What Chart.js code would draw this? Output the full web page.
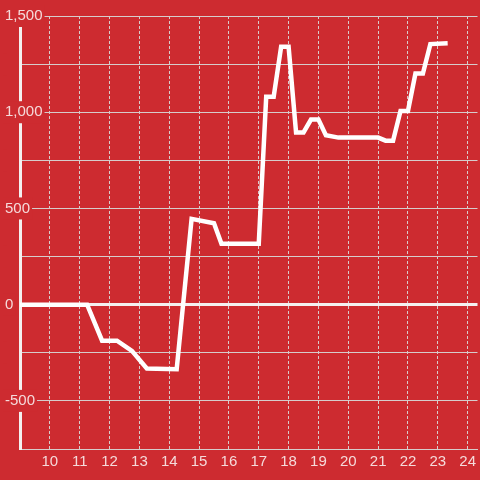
<!DOCTYPE html>
<html>
<head>
<meta charset="utf-8">
<script src="https://cdn.jsdelivr.net/npm/chart.js@4/dist/chart.umd.min.js"></script>
<style>
  html, body { margin: 0; padding: 0; background: #cd2b30; }
  #wrap { width: 480px; height: 480px; }
</style>
</head>
<body>
<div id="wrap"><canvas id="chart_main"></canvas></div>
<script>
// hours of the day (x) and running value (y)
const hours = [9, 11.25, 11.75, 12.25, 12.75, 13.25, 14.25, 14.75, 15.5, 15.75, 17, 17.25, 17.5, 17.75, 18, 18.25, 18.5, 18.75, 19, 19.25, 19.67, 21, 21.25, 21.5, 21.75, 22, 22.25, 22.5, 22.75, 23.33];
const values = [0, 0, -187, -187, -240, -332, -335, 446, 423, 316, 316, 1080, 1080, 1340, 1340, 895, 895, 962, 962, 880, 868, 868, 852, 852, 1007, 1007, 1201, 1201, 1354, 1358];

const x_ticks = [10, 11, 12, 13, 14, 15, 16, 17, 18, 19, 20, 21, 22, 23, 24];
const y_ticks = [-750, -500, -250, 0, 250, 500, 750, 1000, 1250, 1500];
const y_labelled = [-500, 0, 500, 1000, 1500];

const bg_color = "#cd2b30";
const text_color = "#f5dada";
const grid_color = "#d6cccc";

Chart.defaults.font.family = "'Liberation Sans', Arial, sans-serif";
Chart.defaults.font.size = 15;
Chart.defaults.color = text_color;

const points = hours.map(function (h, i) {
  return { x: h, y: values[i] };
});

let this_canvas = document.getElementById("chart_main").getContext("2d");
new Chart(this_canvas, {
  type: "line",
  data: {
    datasets: [
      {
        label: "Value",
        data: points,
        borderColor: "#ffffff",
        borderWidth: 4.5,
        pointRadius: 0,
        tension: 0,
      },
    ],
  },
  options: {
    responsive: true,
    maintainAspectRatio: false,
    animation: false,
    layout: {
      padding: { left: 20, right: 0, top: 16, bottom: 5 },
    },
    plugins: {
      legend: { display: false },
      tooltip: { enabled: false },
    },
    scales: {
      x: {
        type: "linear",
        min: 9,
        max: 24.33,
        afterBuildTicks: function (scale) {
          scale.ticks = x_ticks.map((v) => ({ value: v }));
        },
        grid: {
          color: grid_color,
          lineWidth: 1,
          drawTicks: false,
        },
        border: {
          display: true,
          color: grid_color,
          width: 1,
          dash: [3, 2],
        },
        ticks: {
          padding: 4,
          color: text_color,
          callback: (v) => String(v),
        },
      },
      y: {
        type: "linear",
        min: -750,
        max: 1500,
        afterBuildTicks: function (scale) {
          scale.ticks = y_ticks.map((v) => ({ value: v }));
        },
        afterFit: function (scale) {
          // mirrored labels sit over the axis line, axis takes no room
          scale.width = 0;
        },
        grid: {
          color: (ctx) => (ctx.tick && ctx.tick.value === 0 ? "#f4f0f0" : grid_color),
          lineWidth: (ctx) => (ctx.tick && ctx.tick.value === 0 ? 3 : 1),
          drawTicks: false,
        },
        border: {
          display: true,
          color: "#f4f0f0",
          width: 3,
        },
        ticks: {
          mirror: true,
          padding: -15,
          z: 1,
          color: text_color,
          showLabelBackdrop: true,
          backdropColor: bg_color,
          backdropPadding: 2,
          callback: (v) => (y_labelled.includes(v) ? v.toLocaleString("en-US") : ""),
        },
      },
    },
  },
});
</script>
</body>
</html>
